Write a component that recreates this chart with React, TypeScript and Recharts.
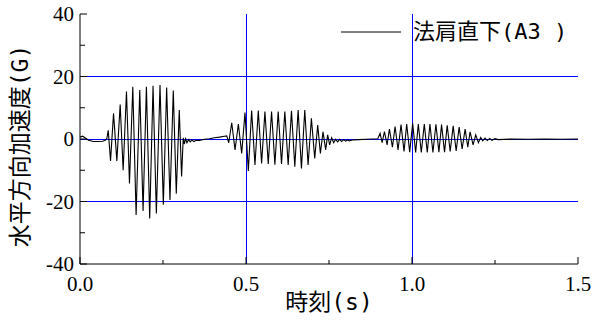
import { LineChart, Line, XAxis, YAxis, CartesianGrid, Legend } from "recharts";

// time (s), horizontal acceleration (G)
const lead = [
  [0.0, 0.6], [0.008, 0.9], [0.016, 0.3], [0.026, -0.4], [0.04, -0.8],
  [0.055, -0.8], [0.068, -0.7], [0.077, -0.3], [0.081, 0.2],
];
const burst1 = [
  [0.085, 2.8], [0.092, -7.0], [0.101, 8.2], [0.111, -7.0], [0.121, 11.0],
  [0.130, -10.0], [0.140, 15.2], [0.149, -14.2], [0.159, 16.7], [0.169, -24.3],
  [0.180, 15.7], [0.190, -23.0], [0.200, 16.7], [0.210, -25.4], [0.220, 17.0],
  [0.230, -23.8], [0.241, 17.3], [0.251, -21.0], [0.261, 16.5], [0.271, -19.5],
  [0.281, 15.5], [0.290, -17.5], [0.299, 9.3], [0.306, -12.0], [0.311, 0.4],
];
const gap1 = [
  [0.314, -1.6], [0.318, 0.1], [0.322, -1.2], [0.327, -0.2], [0.332, -0.9],
  [0.337, -0.3], [0.343, -0.8], [0.35, -0.4], [0.36, -0.5], [0.375, -0.1],
  [0.39, 0.1], [0.405, 0.4], [0.42, 0.6], [0.435, 0.9], [0.442, 1.0],
];
const burst2 = [
  [0.448, -1.2], [0.457, 5.2], [0.467, -3.5], [0.477, 4.8], [0.487, -4.6],
  [0.497, 8.5], [0.507, -10.2], [0.517, 9.1], [0.527, -8.3], [0.537, 9.1],
  [0.547, -7.8], [0.557, 8.8], [0.567, -8.0], [0.577, 8.8], [0.587, -8.2],
  [0.597, 8.8], [0.607, -8.0], [0.617, 8.8], [0.627, -8.3], [0.637, 9.0],
  [0.647, -8.9], [0.657, 9.3], [0.667, -9.4], [0.677, 9.3], [0.687, -8.3],
  [0.697, 6.6], [0.707, -6.2], [0.716, 4.5], [0.724, -4.6], [0.732, 2.3],
  [0.740, -3.5], [0.746, 1.3], [0.752, -1.9], [0.758, 0.4],
];
const gap2 = [
  [0.764, -1.2], [0.77, -0.1], [0.776, -0.9], [0.782, -0.1], [0.788, -0.8],
  [0.794, -0.2], [0.8, -0.7], [0.806, -0.3], [0.812, -0.6], [0.82, -0.3],
  [0.84, -0.2], [0.86, -0.1], [0.88, 0.0], [0.897, 0.1],
];
const burst3 = [
  [0.904, 1.8], [0.910, -1.2], [0.917, 2.4], [0.925, -1.9], [0.932, 3.2],
  [0.941, -2.6], [0.949, 4.0], [0.958, -3.5], [0.967, 4.6], [0.976, -4.0],
  [0.984, 4.8], [0.993, -4.2], [1.002, 5.0], [1.011, -4.3], [1.019, 4.8],
  [1.028, -4.3], [1.037, 4.8], [1.046, -4.3], [1.054, 4.8], [1.063, -4.3],
  [1.072, 4.7], [1.081, -4.2], [1.089, 4.6], [1.098, -4.2], [1.106, 4.4],
  [1.115, -4.0], [1.124, 4.2], [1.133, -3.8], [1.142, 3.8], [1.151, -3.2],
  [1.160, 3.2], [1.168, -2.6], [1.175, 2.3], [1.184, -1.9], [1.192, 1.3],
  [1.200, -1.2], [1.207, 0.5], [1.213, -0.6],
];
const tail = [
  [1.22, 0.3], [1.227, -0.5], [1.234, 0.2], [1.241, -0.4], [1.25, 0.1],
  [1.26, -0.2], [1.3, 0.0], [1.35, -0.1], [1.4, 0.0], [1.45, -0.1], [1.5, 0.0],
];

const xTicks = [0, 0.25, 0.5, 0.75, 1.0, 1.25, 1.5];
const yTicks = [-40, -30, -20, -10, 0, 10, 20, 30, 40];
const gridX = [0.5, 1.0];
const gridY = [20, 0, -20];
const seriesName = "法肩直下(A3 )";

const data = [...lead, ...burst1, ...gap1, ...burst2, ...gap2, ...burst3, ...tail].map(
  ([t, a]) => ({ t, a })
);

const SERIF = "'Liberation Serif', 'Times New Roman', serif";
const CJK = "'DejaVu Sans Mono', 'Noto Sans CJK JP', sans-serif";
const BLUE = "#0000ff";

function XTick(props: any) {
  const { x, y, payload } = props;
  const v = payload.value as number;
  const major = Math.abs(v * 2 - Math.round(v * 2)) < 1e-6;
  return (
    <g>
      <line x1={x} x2={x} y1={y} y2={y - (major ? 7 : 4)} stroke="#000" />
      {major && (
        <text x={x} y={y + 27} textAnchor="middle" fontSize={21} fontFamily={SERIF} fill="#000">
          {v.toFixed(1)}
        </text>
      )}
    </g>
  );
}

function YTick(props: any) {
  const { x, y, payload } = props;
  const v = payload.value as number;
  const major = v % 20 === 0;
  return (
    <g>
      <line x1={x} x2={x + (major ? 7 : 5)} y1={y} y2={y} stroke="#000" />
      {major && (
        <text x={x - 6} y={y + 7} textAnchor="end" fontSize={21} fontFamily={SERIF} fill="#000">
          {String(v)}
        </text>
      )}
    </g>
  );
}

function LegendBox() {
  return (
    <div style={{ display: "flex", alignItems: "center", height: 30 }}>
      <svg width={62} height={30}>
        <line x1={1} x2={61} y1={15} y2={15} stroke="#000" />
      </svg>
      <span style={{ marginLeft: 11, fontSize: 22, fontFamily: CJK, lineHeight: "30px", color: "#000", whiteSpace: "pre" }}>
        {seriesName}
      </span>
    </div>
  );
}

export default function App() {
  return (
    <div style={{ position: "absolute", left: 0, top: 0, background: "#fff" }}>
      <LineChart width={599} height={323} data={data} margin={{ top: 14, right: 21, bottom: 0, left: 0 }}>
        <CartesianGrid
          horizontalValues={gridY}
          verticalValues={gridX}
          stroke={BLUE}
          strokeWidth={1}
          shapeRendering="crispEdges"
        />
        <XAxis
          dataKey="t"
          type="number"
          domain={[0, 1.5]}
          ticks={xTicks}
          interval={0}
          height={59}
          tickSize={0}
          tickMargin={0}
          tickLine={false}
          axisLine={{ stroke: "#000" }}
          tick={(p: any) => <XTick {...p} />}
          label={{ value: "時刻(s)", position: "center", dy: 8, style: { fontSize: 23, fontFamily: CJK, fill: "#000" } }}
        />
        <YAxis
          type="number"
          domain={[-40, 40]}
          ticks={yTicks}
          interval={0}
          width={80}
          tickSize={0}
          tickMargin={0}
          tickLine={false}
          axisLine={{ stroke: "#000" }}
          tick={(p: any) => <YTick {...p} />}
          label={{ value: "水平方向加速度(G)", angle: -90, position: "center", dx: -20, dy: 7, style: { fontSize: 23, fontFamily: CJK, fill: "#000" } }}
        />
        <Line
          type="linear"
          dataKey="a"
          name={seriesName}
          stroke="#000"
          strokeWidth={1.1}
          dot={false}
          isAnimationActive={false}
        />
        <Legend
          layout="horizontal"
          verticalAlign="middle"
          align="center"
          wrapperStyle={{ top: 17, left: 340, width: 250, height: 30 }}
          content={() => <LegendBox />}
        />
      </LineChart>
    </div>
  );
}
